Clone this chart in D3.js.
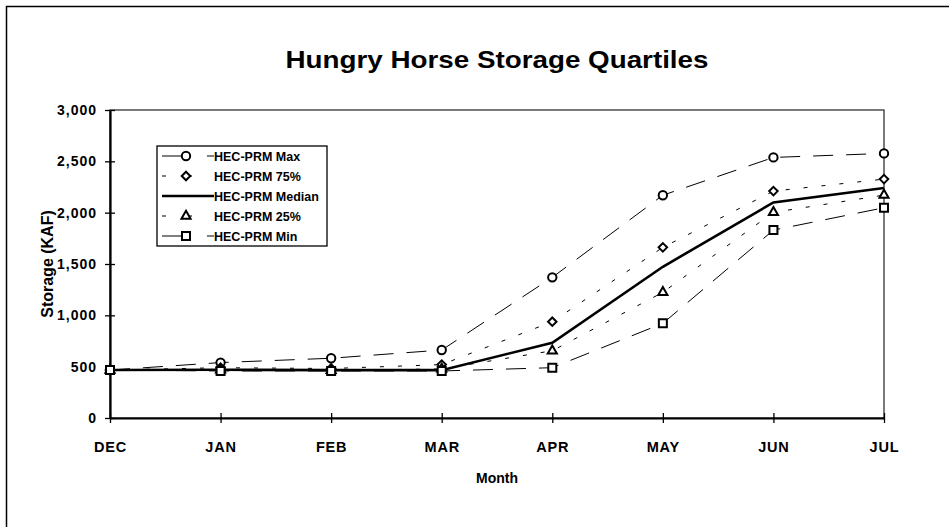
<!DOCTYPE html>
<html>
<head>
<meta charset="utf-8">
<script src="https://cdn.jsdelivr.net/npm/d3@7"></script>
<style>
  body { margin: 0; background: #fff; }
  text { font-family: "Liberation Sans", Arial, sans-serif; fill: #000; }
</style>
</head>
<body>
<div id="chart"></div>
<script>
// data (KAF)
var months = ["DEC", "JAN", "FEB", "MAR", "APR", "MAY", "JUN", "JUL"];
var maxVals    = [467, 540, 582, 662, 1370, 2170, 2538, 2577];
var p75Vals    = [467, 490, 482, 520, 938, 1662, 2210, 2327];
var medianVals = [467, 470, 466, 466, 733, 1473, 2100, 2240];
var p25Vals    = [467, 468, 464, 478, 655, 1224, 2003, 2171];
var minVals    = [467, 458, 458, 458, 490, 922, 1830, 2048];
var yTicks = [0, 500, 1000, 1500, 2000, 2500, 3000];

// diamond drawn as a small square turned 45 degrees
var smallDiamond = {
  draw: function(ctx, size) {
    var r = Math.sqrt(size / 2);
    ctx.moveTo(0, -r); ctx.lineTo(r, 0); ctx.lineTo(0, r); ctx.lineTo(-r, 0); ctx.closePath();
  }
};

var series = [
  {name: "HEC-PRM Max",    values: maxVals,    dash: "20,13", width: 1,   marker: d3.symbolCircle,   size: 55},
  {name: "HEC-PRM 75%",    values: p75Vals,    dash: "4,14",  width: 1,   marker: smallDiamond,      size: 36},
  {name: "HEC-PRM Median", values: medianVals, dash: null,    width: 2.6, marker: null,              size: 0},
  {name: "HEC-PRM 25%",    values: p25Vals,    dash: "4,14",  width: 1,   marker: d3.symbolTriangle, size: 36},
  {name: "HEC-PRM Min",    values: minVals,    dash: "20,13", width: 1,   marker: d3.symbolSquare,   size: 64}
];

var W = 949, H = 527;
var margin = {top: 110, right: 65, bottom: 109, left: 110},
    width = W - margin.left - margin.right,
    height = H - margin.top - margin.bottom;

var root = d3.select("#chart").append("svg")
    .attr("width", W)
    .attr("height", H);

// outer frame (only left and top edges show)
root.append("path")
    .attr("d", "M6.5," + H + "V6.5H" + W)
    .attr("fill", "none")
    .attr("stroke", "#000")
    .attr("stroke-width", 1.5);

root.append("text")
    .attr("x", 497)
    .attr("y", 68)
    .attr("text-anchor", "middle")
    .attr("textLength", 423)
    .attr("lengthAdjust", "spacingAndGlyphs")
    .style("font-size", "24px")
    .style("font-weight", "bold")
    .text("Hungry Horse Storage Quartiles");

var svg = root.append("g")
    .attr("transform", `translate(${margin.left},${margin.top})`);

var x = d3.scalePoint()
    .domain(months)
    .range([0, width]);

var y = d3.scaleLinear()
    .domain([0, 3000])
    .range([height, 0]);

// plot box
svg.append("rect")
    .attr("width", width)
    .attr("height", height)
    .attr("fill", "none")
    .attr("stroke", "#333")
    .attr("stroke-width", 1.3);

// axes
var xAxis = svg.append("g")
    .attr("transform", `translate(0,${height})`)
    .call(d3.axisBottom(x).tickSize(0).tickPadding(24));
xAxis.select(".domain").attr("stroke-width", 2.2);
xAxis.selectAll(".tick").append("line")
    .attr("y1", -5).attr("y2", 5).attr("stroke", "#000").attr("stroke-width", 1.3);
xAxis.selectAll(".tick text")
    .style("font-size", "14.5px").style("font-weight", "bold").style("letter-spacing", "0.8px");

var yAxis = svg.append("g")
    .call(d3.axisLeft(y).tickValues(yTicks).tickFormat(d3.format(",")).tickSize(0).tickPadding(13));
yAxis.select(".domain").attr("stroke-width", 2.2);
yAxis.selectAll(".tick").append("line")
    .attr("x1", -5).attr("x2", 5).attr("stroke", "#000").attr("stroke-width", 1.3);
yAxis.selectAll(".tick text")
    .style("font-size", "14px").style("font-weight", "bold").style("letter-spacing", "1px");

svg.append("text")
    .attr("transform", `translate(${-57},${height / 2}) rotate(-90)`)
    .attr("text-anchor", "middle")
    .style("font-size", "16px")
    .style("font-weight", "bold")
    .text("Storage (KAF)");

svg.append("text")
    .attr("x", width / 2)
    .attr("y", height + 65)
    .attr("text-anchor", "middle")
    .style("font-size", "14px")
    .style("font-weight", "bold")
    .text("Month");

// lines
var line = d3.line()
    .x(function(d, i) { return x(months[i]); })
    .y(function(d) { return y(d); });

series.forEach(function(s) {
  svg.append("path")
      .datum(s.values)
      .attr("fill", "none")
      .attr("stroke", "#000")
      .attr("stroke-width", s.width)
      .attr("stroke-dasharray", s.dash)
      .attr("d", line);
});

series.forEach(function(s) {
  if (!s.marker) return;
  svg.selectAll(null)
      .data(s.values)
      .enter().append("path")
      .attr("transform", function(d, i) { return `translate(${x(months[i])},${y(d)})`; })
      .attr("d", d3.symbol().type(s.marker).size(s.size))
      .attr("fill", "#fff")
      .attr("stroke", "#000")
      .attr("stroke-width", 2);
});

// legend
var legend = root.append("g").attr("transform", "translate(157,146)");
legend.append("rect")
    .attr("width", 170)
    .attr("height", 100)
    .attr("fill", "#fff")
    .attr("stroke", "#000")
    .attr("stroke-width", 1.3);

series.forEach(function(s, i) {
  var row = legend.append("g").attr("transform", `translate(0,${10 + i * 20})`);
  row.append("line")
      .attr("x1", 5).attr("x2", 57)
      .attr("stroke", "#000")
      .attr("stroke-width", s.width)
      .attr("stroke-dasharray", s.dash ? (s.dash === "20,13" ? "20,25" : "4,22") : null);
  if (s.marker) {
    row.append("path")
        .attr("transform", "translate(29,0)")
        .attr("d", d3.symbol().type(s.marker).size(s.size))
        .attr("fill", "#fff")
        .attr("stroke", "#000")
        .attr("stroke-width", 2);
  }
  row.append("text")
      .attr("x", 57)
      .attr("y", 4.5)
      .style("font-size", "12.5px")
      .style("font-weight", "bold")
      .text(s.name);
});
</script>
</body>
</html>
